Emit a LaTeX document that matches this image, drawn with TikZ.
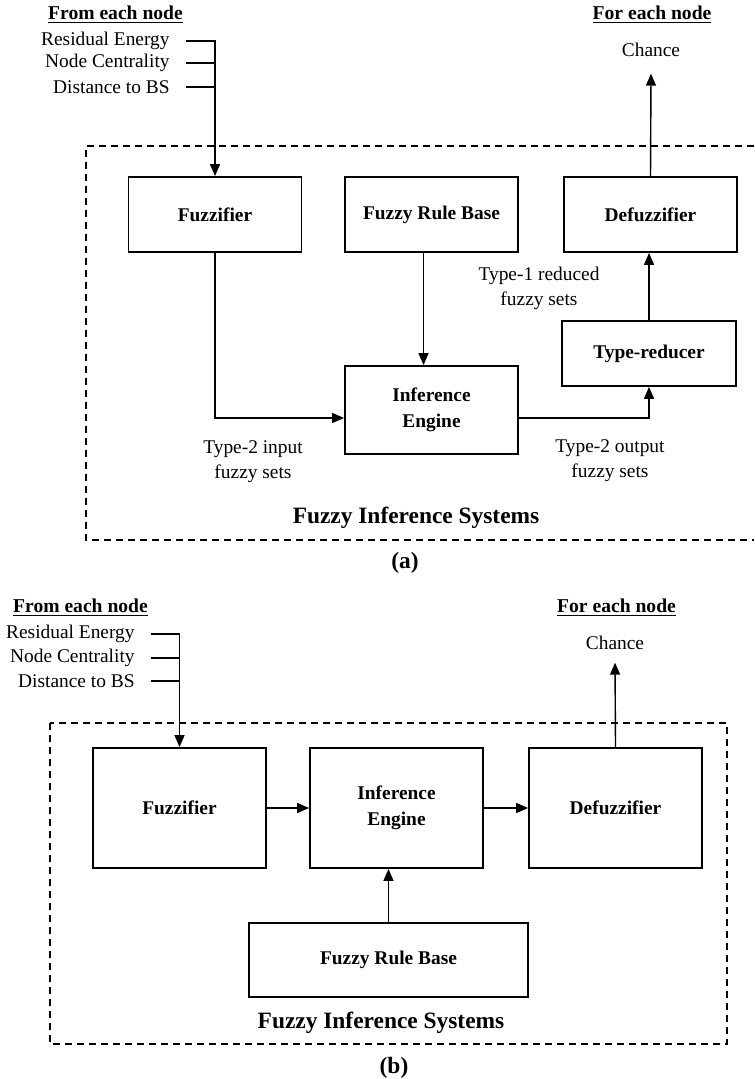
\documentclass[tikz,border=0pt]{standalone}
\usepackage{fontspec}
\setmainfont{Liberation Serif}
\usetikzlibrary{arrows.meta}
\definecolor{fg}{HTML}{000000}
\definecolor{stroke}{HTML}{000000}

\begin{document}
\begin{tikzpicture}[
  x=0.5pt, y=-0.5pt,
  font=\fontsize{9.7}{12.5}\selectfont, >={Triangle[length=6pt,width=5pt]},
  blk/.style={draw=stroke, line width=0.9pt, inner sep=0pt, align=center, text=fg, font=\fontsize{9.7}{13}\selectfont\bfseries},
  lbl/.style={inner sep=0pt, text=fg, align=center},
  hdr/.style={inner sep=0pt, text=fg, font=\fontsize{9.8}{12}\selectfont\bfseries},
  ttl/.style={inner sep=0pt, text=fg, font=\fontsize{11.7}{14}\selectfont\bfseries},
  con/.style={draw=stroke, line width=0.7pt},
  frame/.style={draw=stroke, line width=0.9pt, dash pattern=on 3.5pt off 2.5pt},
]
\useasboundingbox (0,0) rectangle (754,1079);

% (a) type-2 system
\node[hdr] (fromA) at (115.5,15) {\underline{From each node}};
\node[hdr] (forA) at (652,15) {\underline{For each node}};
\node[lbl, anchor=east] (reA) at (170,41) {Residual Energy};
\node[lbl, anchor=east] (ncA) at (170,63) {Node Centrality};
\node[lbl, anchor=east] (dbA) at (170,87) {Distance to BS};
\node[lbl, anchor=base] (chA) at (651,56.5) {Chance};
\node[blk, minimum width=86.5pt, minimum height=37.5pt] (fuzA) at (215,214.5) {Fuzzifier};
\node[blk, minimum width=86.5pt, minimum height=37.5pt] (frbA) at (431.5,214.5) {Fuzzy Rule Base};
\node[blk, minimum width=86.5pt, minimum height=37.5pt] (defA) at (650.5,214.5) {Defuzzifier};
\node[blk, minimum width=86.5pt, minimum height=44pt] (ieA) at (431.5,410) {Inference\\Engine};
\node[blk, minimum width=87pt, minimum height=32.5pt] (trA) at (649,353.5) {Type-reducer};
\node[lbl] (redA) at (539,288.5) {Type-1 reduced\\fuzzy sets};
\node[lbl] (inA) at (253,461.5) {Type-2 input\\fuzzy sets};
\node[lbl] (outA) at (610,460.5) {Type-2 output\\fuzzy sets};
\node[ttl] (fisA) at (416,518) {Fuzzy Inference Systems};
\node[ttl] (capA) at (405,563) {(a)};
\draw[frame] (754,146) -| (86,540) -- (754,540);

% flows (a)
\draw[con,->] ([xshift=8pt]reA.east) -| (fuzA.north);
\draw[con] ([xshift=8pt]ncA.east) -- (ncA.east -| fuzA.north);
\draw[con] ([xshift=8pt]dbA.east) -- (dbA.east -| fuzA.north);
\draw[con,->] (defA.north) -- ([yshift=-8.3pt]chA.south);
\draw[con,->] ([xshift=-4pt]frbA.south) -- ([xshift=-4pt]ieA.north);
\draw[con,->] (fuzA.south) |- ([yshift=-4pt]ieA.west);
\draw[con,->] ([yshift=-4pt]ieA.east) -| (trA.south);
\draw[con,->] (trA.north) -- (trA.north |- defA.south);

% (b) type-1 system
\node[hdr] (fromB) at (80.5,608) {\underline{From each node}};
\node[hdr] (forB) at (616.5,608) {\underline{For each node}};
\node[lbl, anchor=east] (reB) at (135,634) {Residual Energy};
\node[lbl, anchor=east] (ncB) at (135,658) {Node Centrality};
\node[lbl, anchor=east] (dbB) at (135,681) {Distance to BS};
\node[lbl, anchor=base] (chB) at (615,649.5) {Chance};
\node[blk, minimum width=86.5pt, minimum height=60pt] (fuzB) at (179.5,808) {Fuzzifier};
\node[blk, minimum width=86.5pt, minimum height=60pt] (ieB) at (396.5,808) {Inference\\Engine};
\node[blk, minimum width=86.5pt, minimum height=60pt] (defB) at (615.5,808) {Defuzzifier};
\node[blk, minimum width=139.5pt, minimum height=37pt] (frbB) at (388.5,960) {Fuzzy Rule Base};
\node[ttl] (fisB) at (381,1023) {Fuzzy Inference Systems};
\node[ttl] (capB) at (394,1068) {(b)};
\draw[frame] (50,723) rectangle (727,1044);

% flows (b)
\draw[con,->] ([xshift=8pt]reB.east) -| (fuzB.north);
\draw[con] ([xshift=8pt]ncB.east) -- (ncB.east -| fuzB.north);
\draw[con] ([xshift=8pt]dbB.east) -- (dbB.east -| fuzB.north);
\draw[con,->] (defB.north) -- ([yshift=-6.3pt]chB.south);
\draw[con,->] (fuzB.east) -- (ieB.west);
\draw[con,->] (ieB.east) -- (defB.west);
\draw[con,->] (frbB.north) -- (frbB.north |- ieB.south);
\end{tikzpicture}
\end{document}
